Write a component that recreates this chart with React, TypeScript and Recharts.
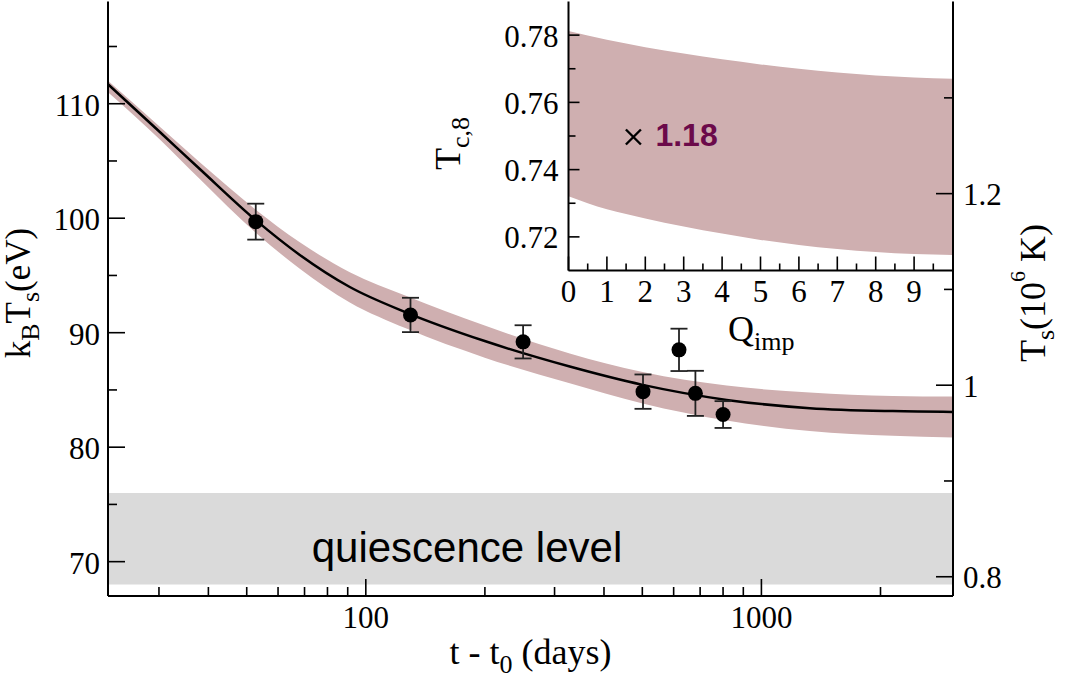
import React from 'react';
import {
  ComposedChart,
  Line,
  Area,
  Scatter,
  ErrorBar,
  XAxis,
  YAxis,
  ReferenceArea,
  Label,
} from 'recharts';

const SERIF = '"Liberation Serif", "DejaVu Serif", serif';
const SANS = '"Liberation Sans", Arial, Helvetica, sans-serif';

// ---------- main panel: fitted cooling curve ----------
const curveT = [22.3, 30.2, 38.1, 52.7, 68.1, 91.1, 126.7, 199.8, 327.7, 501, 817, 1325, 2147, 3050];
const curveFit = [111.7, 107.51, 104.28, 99.83, 96.79, 93.99, 91.76, 89.27, 87.04, 85.44, 84.13, 83.41, 83.15, 83.08];
const bandUpper = [112.0, 107.96, 104.86, 100.75, 97.89, 95.29, 93.21, 90.62, 88.19, 86.56, 85.38, 84.78, 84.48, 84.43];
const bandLower = [111.0, 106.86, 103.4, 98.73, 95.59, 92.64, 90.36, 87.82, 85.59, 83.82, 82.33, 81.41, 80.99, 80.85];

// observations
const obsT = [52.7, 129.7, 249.8, 502, 619, 681, 800];
const obsKT = [99.7, 91.55, 89.2, 84.85, 88.5, 84.7, 82.85];
const obsErr = [1.57, 1.5, 1.45, 1.5, 1.85, 1.97, 1.17];

// quiescence level band
const quiescenceLow = 68;
const quiescenceHigh = 76;
const quiescenceText = 'quiescence level';

// axes
const xDomain = [22.3, 3050];
const xTicks = [30, 40, 50, 60, 70, 80, 90, 100, 200, 300, 400, 500, 600, 700, 800, 900, 1000, 2000];
const xLabeled = [100, 1000];
const leftDomain = [67, 118.93];
const leftTicks = [70, 75, 80, 85, 90, 95, 100, 105, 110, 115];
const leftLabeled = [70, 80, 90, 100, 110];
const rightDomain = [0.7799, 1.4006];
const rightTicks = [0.8, 0.9, 1.0, 1.1, 1.2, 1.3];
const rightLabeled = [0.8, 1.0, 1.2];

// ---------- inset: T_c,8 vs Q_imp ----------
const qImp = [0, 1, 2, 3, 4, 5, 6, 7, 8, 9, 10];
const tcUpper = [0.7812, 0.7786, 0.7764, 0.7745, 0.7728, 0.7713, 0.77, 0.7689, 0.768, 0.7674, 0.767];
const tcLower = [0.7321, 0.7282, 0.7255, 0.7231, 0.721, 0.7191, 0.7176, 0.7164, 0.7155, 0.7149, 0.7146];
const markQ = [1.69];
const markTc = [0.7497];
const markLabel = ['1.18'];

const insetXDomain = [0, 10];
const insetXTicks = [0, 0.5, 1, 1.5, 2, 2.5, 3, 3.5, 4, 4.5, 5, 5.5, 6, 6.5, 7, 7.5, 8, 8.5, 9, 9.5];
const insetXLabeled = [0, 1, 2, 3, 4, 5, 6, 7, 8, 9];
const insetYDomain = [0.71, 0.79];
const insetYTicks = [0.72, 0.73, 0.74, 0.75, 0.76, 0.77, 0.78];
const insetYLabeled = [0.72, 0.74, 0.76, 0.78];

// ---------- derived tables ----------
const curveData = curveT.map((t, i) => ({ t, fit: curveFit[i], band: [bandLower[i], bandUpper[i]] }));
const obsData = obsT.map((t, i) => ({ t, kt: obsKT[i], err: obsErr[i] }));
const insetData = qImp.map((q, i) => ({ q, band: [tcLower[i], tcUpper[i]] }));
const markData = markQ.map((q, i) => ({ q, tc: markTc[i], label: markLabel[i] }));

const BAND = '#cfafb0';
const TICK_FONT = 31;
const TITLE_FONT = 36;
const SUB_FONT = 26;
const serifStyle = { fontFamily: SERIF };
const sansStyle = { fontFamily: SANS };

// ---------- tick renderers ----------
const XTick = (p: any) => {
  const { x, y, payload } = p;
  const v = payload.value;
  const major = xLabeled.includes(v);
  const ay = y - 10;
  return (
    <g>
      <line x1={x} x2={x} y1={ay} y2={ay - (major ? 17 : 9)} stroke="#000" strokeWidth={1.6} />
      {major && (
        <text x={x} y={y + 21.5} textAnchor="middle" style={serifStyle} fontSize={TICK_FONT} fill="#000">
          {v}
        </text>
      )}
    </g>
  );
};

const LeftTick = (p: any) => {
  const { x, y, payload } = p;
  const v = payload.value;
  const major = leftLabeled.includes(v);
  const ax = x + 8;
  return (
    <g>
      <line x1={ax} x2={ax + (major ? 17 : 9)} y1={y} y2={y} stroke="#000" strokeWidth={1.6} />
      {major && (
        <text x={x} y={y + 12} textAnchor="end" style={serifStyle} fontSize={TICK_FONT} fill="#000">
          {v}
        </text>
      )}
    </g>
  );
};

const RightTick = (p: any) => {
  const { x, y, payload } = p;
  const v = payload.value;
  const major = rightLabeled.includes(v);
  const ax = x - 10;
  return (
    <g>
      <line x1={ax} x2={ax - (major ? 17 : 9)} y1={y} y2={y} stroke="#000" strokeWidth={1.6} />
      {major && (
        <text x={x} y={y + 11.7} textAnchor="start" style={serifStyle} fontSize={TICK_FONT} fill="#000">
          {String(v)}
        </text>
      )}
    </g>
  );
};

const InsetBottomTick = (p: any) => {
  const { x, y, payload } = p;
  const v = payload.value;
  const major = Number.isInteger(v);
  const ay = y - 10;
  return (
    <g>
      <line x1={x} x2={x} y1={ay} y2={ay - (major ? 14 : 7)} stroke="#000" strokeWidth={1.6} />
      {insetXLabeled.includes(v) && (
        <text x={x} y={y + 21} textAnchor="middle" style={serifStyle} fontSize={TICK_FONT} fill="#000">
          {v}
        </text>
      )}
    </g>
  );
};

const InsetTopTick = (p: any) => {
  const { x, y, payload } = p;
  const v = payload.value;
  const major = Number.isInteger(v);
  return <line x1={x} x2={x} y1={y} y2={y + (major ? 14 : 7)} stroke="#000" strokeWidth={1.6} />;
};

const InsetLeftTick = (p: any) => {
  const { x, y, payload } = p;
  const v = payload.value;
  const major = insetYLabeled.includes(v);
  const ax = x + 10;
  return (
    <g>
      <line x1={ax} x2={ax + (major ? 11 : 7)} y1={y} y2={y} stroke="#000" strokeWidth={1.6} />
      {major && (
        <text x={x} y={y + 11.5} textAnchor="end" style={serifStyle} fontSize={TICK_FONT} fill="#000">
          {String(v)}
        </text>
      )}
    </g>
  );
};

// ---------- axis titles ----------
const XTitle = (p: any) => {
  const vb = p.viewBox;
  const cx = vb.x + vb.width / 2;
  const by = vb.y + 68;
  return (
    <text x={cx} y={by} textAnchor="middle" style={serifStyle} fontSize={TITLE_FONT} fill="#000">
      t - t
      <tspan fontSize={SUB_FONT} dy={9}>0</tspan>
      <tspan dy={-9}> (days)</tspan>
    </text>
  );
};

const LeftTitle = (p: any) => {
  const vb = p.viewBox;
  const bx = vb.x + 22;
  const cy = 293;
  return (
    <text
      x={bx}
      y={cy}
      transform={`rotate(-90, ${bx}, ${cy})`}
      textAnchor="middle"
      style={serifStyle}
      fontSize={35}
      fill="#000"
    >
      k
      <tspan fontSize={SUB_FONT} dy={9}>B</tspan>
      <tspan dy={-9}>T</tspan>
      <tspan fontSize={SUB_FONT} dy={9}>s</tspan>
      <tspan dy={-9}>(eV)</tspan>
    </text>
  );
};

const RightTitle = (p: any) => {
  const vb = p.viewBox;
  const bx = vb.x + 92;
  const cy = 293;
  return (
    <text
      x={bx}
      y={cy}
      transform={`rotate(-90, ${bx}, ${cy})`}
      textAnchor="middle"
      style={serifStyle}
      fontSize={TITLE_FONT}
      fill="#000"
    >
      T
      <tspan fontSize={SUB_FONT} dy={9}>s</tspan>
      <tspan dy={-9}>(10</tspan>
      <tspan fontSize={22} dy={-20}>6</tspan>
      <tspan dy={20}> K)</tspan>
    </text>
  );
};

const QuiescenceLabel = (p: any) => {
  const vb = p.viewBox;
  return (
    <text x={vb.x + 203.7} y={vb.y + vb.height - 23} style={sansStyle} fontSize={42} fill="#000">
      {quiescenceText}
    </text>
  );
};

const QTitle = (p: any) => {
  const vb = p.viewBox;
  return (
    <text x={vb.x + 159.5} y={vb.y + 70} textAnchor="start" style={serifStyle} fontSize={TITLE_FONT} fill="#000">
      Q
      <tspan fontSize={SUB_FONT} dy={9}>imp</tspan>
    </text>
  );
};

const TcTitle = (p: any) => {
  const vb = p.viewBox;
  const bx = vb.x + 11.5;
  const sy = 170;
  return (
    <text
      x={bx}
      y={sy}
      transform={`rotate(-90, ${bx}, ${sy})`}
      textAnchor="start"
      style={serifStyle}
      fontSize={TITLE_FONT}
      fill="#000"
    >
      T
      <tspan fontSize={SUB_FONT} dy={9}>c,8</tspan>
    </text>
  );
};

// ---------- marks ----------
const Dot = (p: any) => <circle cx={p.cx} cy={p.cy} r={7.5} fill="#000" />;

const Mark = (p: any) => {
  const { cx, cy, payload } = p;
  const h = 7.5;
  return (
    <g>
      <line x1={cx - h} y1={cy - h} x2={cx + h} y2={cy + h} stroke="#000" strokeWidth={2.4} />
      <line x1={cx - h} y1={cy + h} x2={cx + h} y2={cy - h} stroke="#000" strokeWidth={2.4} />
      <text x={cx + 22} y={cy + 9} style={sansStyle} fontWeight="bold" fontSize={32} fill="#6b0a4a">
        {payload.label}
      </text>
    </g>
  );
};

// ---------- charts ----------
const InsetChart = () => (
  <ComposedChart
    width={1068}
    height={380}
    data={insetData}
    margin={{ top: 1.5, right: 115.5, bottom: 380 - 270.5 - 60, left: 568.5 - 120 }}
  >
    <XAxis
      dataKey="q"
      type="number"
      domain={insetXDomain}
      allowDataOverflow
      ticks={insetXTicks}
      interval={0}
      tickSize={0}
      tickMargin={10}
      tickLine={false}
      tick={InsetBottomTick}
      axisLine={{ stroke: '#000', strokeWidth: 2 }}
      height={60}
    >
      <Label content={QTitle} />
    </XAxis>
    <XAxis
      xAxisId="top"
      orientation="top"
      dataKey="q"
      type="number"
      domain={insetXDomain}
      allowDataOverflow
      ticks={insetXTicks}
      interval={0}
      tickSize={0}
      tickMargin={0}
      tickLine={false}
      tick={InsetTopTick}
      axisLine={{ stroke: '#000', strokeWidth: 2 }}
      height={0}
    />
    <YAxis
      type="number"
      domain={insetYDomain}
      allowDataOverflow
      ticks={insetYTicks}
      interval={0}
      tickSize={0}
      tickMargin={10}
      tickLine={false}
      tick={InsetLeftTick}
      axisLine={{ stroke: '#000', strokeWidth: 2 }}
      width={120}
    >
      <Label content={TcTitle} />
    </YAxis>
    <Area
      dataKey="band"
      type="monotone"
      fill={BAND}
      fillOpacity={1}
      stroke="none"
      dot={false}
      activeDot={false}
      isAnimationActive={false}
    />
    <Scatter data={markData} dataKey="tc" shape={Mark} isAnimationActive={false} />
  </ComposedChart>
);

const MainChart = () => (
  <ComposedChart width={1068} height={678} margin={{ top: 1.5, right: 15, bottom: 22, left: 8 }}>
    <XAxis
      dataKey="t"
      type="number"
      scale="log"
      domain={xDomain}
      allowDataOverflow
      ticks={xTicks}
      interval={0}
      tickSize={0}
      tickMargin={10}
      tickLine={false}
      tick={XTick}
      axisLine={{ stroke: '#000', strokeWidth: 2 }}
      height={60}
    >
      <Label content={XTitle} />
    </XAxis>
    <YAxis
      yAxisId="left"
      type="number"
      domain={leftDomain}
      allowDataOverflow
      ticks={leftTicks}
      interval={0}
      tickSize={0}
      tickMargin={8}
      tickLine={false}
      tick={LeftTick}
      axisLine={{ stroke: '#000', strokeWidth: 2 }}
      width={100}
    >
      <Label content={LeftTitle} />
    </YAxis>
    <YAxis
      yAxisId="right"
      orientation="right"
      type="number"
      domain={rightDomain}
      allowDataOverflow
      ticks={rightTicks}
      interval={0}
      tickSize={0}
      tickMargin={10}
      tickLine={false}
      tick={RightTick}
      axisLine={{ stroke: '#000', strokeWidth: 2 }}
      width={100}
    >
      <Label content={RightTitle} />
    </YAxis>
    <ReferenceArea
      yAxisId="left"
      y1={quiescenceLow}
      y2={quiescenceHigh}
      fill="#dadada"
      fillOpacity={1}
      stroke="none"
      label={QuiescenceLabel}
    />
    <Area
      yAxisId="left"
      data={curveData}
      dataKey="band"
      type="monotone"
      fill={BAND}
      fillOpacity={1}
      stroke="none"
      dot={false}
      activeDot={false}
      isAnimationActive={false}
    />
    <Line
      yAxisId="left"
      data={curveData}
      dataKey="fit"
      type="monotone"
      stroke="#000"
      strokeWidth={2.5}
      dot={false}
      activeDot={false}
      isAnimationActive={false}
    />
    <Scatter yAxisId="left" data={obsData} dataKey="kt" shape={Dot} isAnimationActive={false}>
      <ErrorBar dataKey="err" direction="y" width={8.5} stroke="#222" strokeWidth={1.8} />
    </Scatter>
    <ReferenceArea yAxisId="left" fill="none" stroke="#000" strokeWidth={2} />
  </ComposedChart>
);

export default function App() {
  return (
    <div style={{ position: 'absolute', left: 0, top: 0, width: 1068, height: 678, background: '#fff' }}>
      <div style={{ position: 'absolute', left: 0, top: 0 }}>
        <InsetChart />
      </div>
      <div style={{ position: 'absolute', left: 0, top: 0 }}>
        <MainChart />
      </div>
    </div>
  );
}
